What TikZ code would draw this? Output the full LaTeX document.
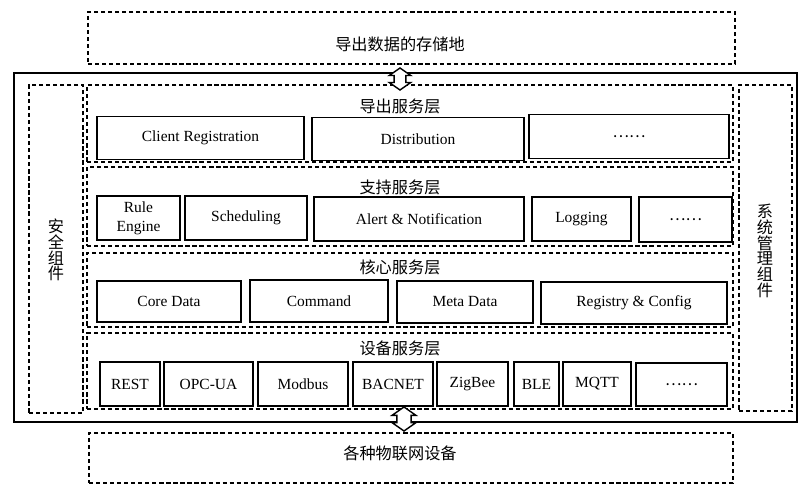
\documentclass[tikz,border=0pt]{standalone}
\usepackage{fontspec}
\setmainfont{Liberation Serif}
\newfontfamily\cjk{Noto Sans CJK SC}
\usetikzlibrary{shapes.arrows}

\begin{document}
\begin{tikzpicture}[x=0.025cm,y=-0.025cm,
    sz/.style 2 args={minimum width=#1*0.025cm,minimum height=#2*0.025cm}]
    \tikzstyle{every node}=[font=\fontsize{11}{13.5}\selectfont]
    \tikzstyle{b} = [draw,line width=1pt,inner sep=0pt,align=center]
    \tikzstyle{d} = [draw,line width=1pt,dash pattern=on 3pt off 2pt,inner sep=0pt]
    \tikzstyle{t} = [font=\cjk\fontsize{11.5}{13.5}\selectfont]
    \tikzstyle{v} = [font=\cjk\fontsize{11.5}{11.2}\selectfont,align=center]
    \tikzstyle{a} = [double arrow,draw,fill=white,line width=1pt,rotate=90,inner sep=0pt,
      inner ysep=0.13cm,double arrow head extend=0.12cm,double arrow tip angle=110,
      minimum width=0.5cm,minimum height=0.55cm]
    \useasboundingbox (0,0) rectangle (812,490);
    \node [d,sz={647}{52}] (store) at (411.5,38) {};
    \node [t] (storet) at (400,44) {导出数据的存储地};
    \node [draw,line width=1pt,inner sep=0pt,sz={783}{349}] (frame) at (405.5,247.5) {};
    \node [d,sz={54}{328}] (sec) at (56,249) {};
    \node [v] (sect) at (56,250) {安\\全\\组\\件};
    \node [d,sz={53}{326}] (mgmt) at (765.5,248) {};
    \node [v] (mgmtt) at (765,251) {系\\统\\管\\理\\组\\件};
    \node [d,sz={646}{77}] (l1) at (410,123.5) {};
    \node [t] (l1t) at (400,106) {导出服务层};
    \node [b,sz={207}{43}] (cr) at (200.5,138) {Client Registration};
    \node [b,sz={212}{43}] (dist) at (418,139) {Distribution};
    \node [b,sz={200}{44}] (etc1) at (629,136.5) {\cjk ……};
    \node [d,sz={646}{79}] (l2) at (410,206.5) {};
    \node [t] (l2t) at (400,187) {支持服务层};
    \node [b,sz={83}{44}] (rule) at (138.5,218) {Rule\\Engine};
    \node [b,sz={122}{44}] (sched) at (246,218) {Scheduling};
    \node [b,sz={210}{44}] (alert) at (419,219) {Alert \& Notification};
    \node [b,sz={99}{44}] (logging) at (581.5,219) {Logging};
    \node [b,sz={93}{45}] (etc2) at (685.5,219.5) {\cjk ……};
    \node [d,sz={646}{74}] (l3) at (410,290) {};
    \node [t] (l3t) at (400,267) {核心服务层};
    \node [b,sz={144}{41}] (core) at (169,301.5) {Core Data};
    \node [b,sz={138}{42}] (cmd) at (319,301) {Command};
    \node [b,sz={136}{42}] (meta) at (465,302) {Meta Data};
    \node [b,sz={186}{42}] (reg) at (634,303) {Registry \& Config};
    \node [d,sz={646}{76}] (l4) at (410,371) {};
    \node [t] (l4t) at (400,348) {设备服务层};
    \node [b,sz={60}{44}] (rest) at (130,384) {REST};
    \node [b,sz={89}{44}] (opc) at (208.5,384) {OPC-UA};
    \node [b,sz={90}{44}] (modbus) at (303,384) {Modbus};
    \node [b,sz={80}{44}] (bacnet) at (393,384) {BACNET};
    \node [b,sz={71}{44}] (zigbee) at (472.5,384) {ZigBee};
    \node [b,sz={45}{44}] (ble) at (536.5,384) {BLE};
    \node [b,sz={68}{44}] (mqtt) at (597,384) {MQTT};
    \node [b,sz={91}{43}] (etc4) at (681.5,384.5) {\cjk ……};
    \node [d,sz={644}{50}] (dev) at (411,458) {};
    \node [t] (devt) at (400,453) {各种物联网设备};
    \node [a] (upper) at (400,79) {};
    \node [a,minimum width=0.57cm,minimum height=0.6cm,inner ysep=0.16cm] (lower) at (404,419) {};
\end{tikzpicture}
\end{document}
